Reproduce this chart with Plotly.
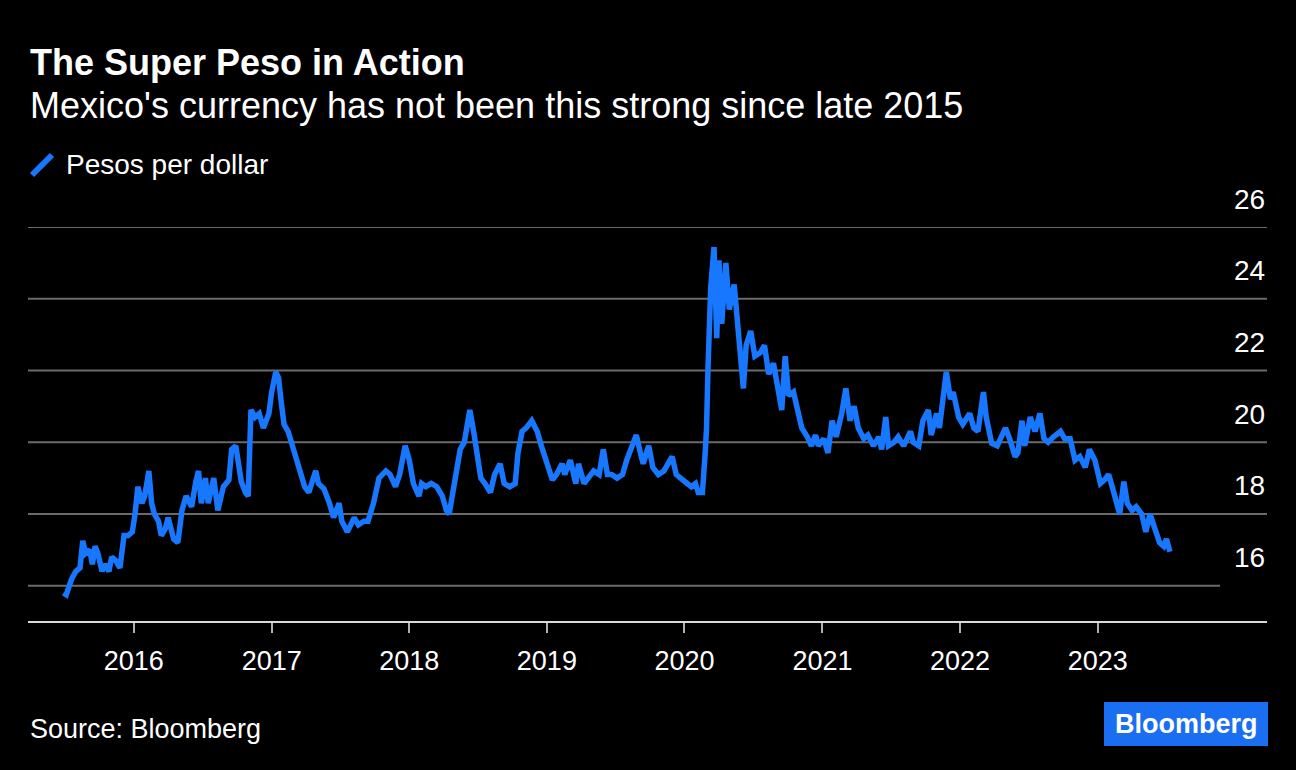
import plotly.graph_objects as go
import pandas as pd

# ---- data (decimal year, pesos per dollar) ----
t_years = [
    2015.49, 2015.51, 2015.55, 2015.58, 2015.61, 2015.63, 2015.65, 2015.68, 2015.70, 2015.72,
    2015.74, 2015.77, 2015.79, 2015.82, 2015.84, 2015.87, 2015.90, 2015.93, 2015.96, 2015.99,
    2016.01, 2016.03, 2016.06, 2016.08, 2016.11, 2016.13, 2016.15, 2016.18, 2016.20, 2016.23,
    2016.25, 2016.29, 2016.32, 2016.35, 2016.38, 2016.42, 2016.45, 2016.47, 2016.49, 2016.52,
    2016.54, 2016.58, 2016.61, 2016.65, 2016.69, 2016.71, 2016.74, 2016.76, 2016.78, 2016.81,
    2016.83, 2016.85, 2016.88, 2016.91, 2016.94, 2016.98, 2017.00, 2017.03, 2017.05, 2017.07,
    2017.09, 2017.12, 2017.15, 2017.17, 2017.21, 2017.24, 2017.27, 2017.32, 2017.34, 2017.38,
    2017.42, 2017.45, 2017.49, 2017.51, 2017.55, 2017.60, 2017.63, 2017.67, 2017.70, 2017.74,
    2017.78, 2017.83, 2017.86, 2017.90, 2017.93, 2017.97, 2018.00, 2018.03, 2018.07, 2018.09,
    2018.12, 2018.16, 2018.20, 2018.24, 2018.27, 2018.29, 2018.33, 2018.37, 2018.40, 2018.44,
    2018.47, 2018.49, 2018.52, 2018.55, 2018.59, 2018.62, 2018.66, 2018.69, 2018.73, 2018.77,
    2018.79, 2018.82, 2018.85, 2018.89, 2018.93, 2018.96, 2019.00, 2019.04, 2019.07, 2019.11,
    2019.13, 2019.17, 2019.21, 2019.23, 2019.27, 2019.30, 2019.34, 2019.38, 2019.41, 2019.44,
    2019.47, 2019.51, 2019.55, 2019.58, 2019.62, 2019.65, 2019.68, 2019.70, 2019.74, 2019.77,
    2019.81, 2019.85, 2019.88, 2019.91, 2019.94, 2019.98, 2020.02, 2020.05, 2020.08, 2020.10,
    2020.13, 2020.15, 2020.16, 2020.17, 2020.19, 2020.214, 2020.234, 2020.25, 2020.27, 2020.30,
    2020.325, 2020.36, 2020.386, 2020.427, 2020.447, 2020.48, 2020.51, 2020.55, 2020.58, 2020.61,
    2020.645, 2020.68, 2020.705, 2020.73, 2020.754, 2020.79, 2020.826, 2020.85, 2020.89, 2020.92,
    2020.95, 2020.97, 2021.01, 2021.04, 2021.07, 2021.10, 2021.14, 2021.17, 2021.20, 2021.23,
    2021.26, 2021.30, 2021.33, 2021.37, 2021.41, 2021.43, 2021.46, 2021.48, 2021.52, 2021.55,
    2021.59, 2021.64, 2021.66, 2021.70, 2021.73, 2021.77, 2021.79, 2021.83, 2021.85, 2021.90,
    2021.93, 2021.95, 2021.99, 2022.02, 2022.07, 2022.10, 2022.13, 2022.17, 2022.19, 2022.23,
    2022.27, 2022.29, 2022.33, 2022.36, 2022.40, 2022.42, 2022.45, 2022.47, 2022.51, 2022.545,
    2022.58, 2022.61, 2022.64, 2022.68, 2022.73, 2022.76, 2022.80, 2022.835, 2022.87, 2022.91,
    2022.94, 2022.98, 2023.02, 2023.05, 2023.08, 2023.11, 2023.14, 2023.16, 2023.19, 2023.215,
    2023.25, 2023.28, 2023.32, 2023.35, 2023.38, 2023.42, 2023.45, 2023.48, 2023.50, 2023.525,
]
pesos_per_dollar = [
    15.8, 15.75, 16.2, 16.4, 16.5, 17.25, 16.9, 17.0, 16.6, 17.1,
    16.9, 16.4, 16.6, 16.4, 16.8, 16.7, 16.5, 17.4, 17.4, 17.5,
    18.0, 18.76, 18.3, 18.5, 19.2, 18.3, 18.0, 17.8, 17.4, 17.6,
    17.9, 17.3, 17.2, 18.1, 18.5, 18.2, 18.9, 19.2, 18.3, 19.0,
    18.3, 19.0, 18.1, 18.76, 18.95, 19.8, 19.9, 19.3, 18.9, 18.6,
    18.5, 20.9, 20.7, 20.8, 20.4, 20.8, 21.4, 21.96, 21.8, 21.1,
    20.5, 20.3, 19.9, 19.7, 19.1, 18.76, 18.6, 19.2, 18.85, 18.7,
    18.3, 17.9, 18.3, 17.8, 17.5, 17.9, 17.7, 17.8, 17.8, 18.3,
    19.0, 19.2, 19.1, 18.76, 19.1, 19.9, 19.5, 18.85, 18.5, 18.85,
    18.76, 18.85, 18.76, 18.5, 18.1, 18.0, 18.9, 19.8, 20.0, 20.9,
    20.25, 19.7, 19.0, 18.85, 18.6, 19.1, 19.4, 18.85, 18.76, 18.85,
    19.7, 20.3, 20.4, 20.6, 20.3, 19.9, 19.4, 18.95, 19.1, 19.4,
    19.1, 19.5, 18.85, 19.4, 18.85, 19.0, 19.2, 19.1, 19.8, 19.1,
    19.1, 19.0, 19.1, 19.5, 19.9, 20.2, 19.7, 19.4, 19.9, 19.3,
    19.1, 19.2, 19.4, 19.6, 19.1, 18.95, 18.85, 18.76, 18.85, 18.6,
    18.6, 19.7, 20.4, 22.0, 24.3, 25.44, 22.9, 25.07, 23.3, 25.0,
    23.7, 24.4, 23.1, 21.5, 22.7, 23.1, 22.4, 22.5, 22.7, 21.9,
    22.2, 21.3, 20.9, 22.4, 21.3, 21.4, 20.8, 20.4, 20.15, 19.9,
    20.2, 19.9, 20.1, 19.7, 20.6, 20.15, 20.8, 21.5, 20.6, 21.0,
    20.4, 20.1, 20.2, 19.9, 20.15, 19.8, 20.7, 19.9, 20.0, 20.15,
    19.9, 20.3, 20.0, 19.9, 20.6, 20.9, 20.2, 20.8, 20.4, 21.96,
    21.2, 21.4, 20.7, 20.5, 20.8, 20.4, 20.3, 21.4, 20.7, 19.97,
    19.9, 20.1, 20.4, 20.1, 19.6, 19.7, 20.6, 19.9, 20.7, 20.3,
    20.8, 20.1, 20.0, 20.15, 20.3, 20.1, 20.1, 19.5, 19.6, 19.3,
    19.8, 19.5, 18.85, 18.95, 19.1, 18.7, 18.2, 18.0, 18.9, 18.3,
    18.1, 18.2, 18.0, 17.5, 18.0, 17.5, 17.2, 17.1, 17.3, 16.95,
]
year_ticks = [2016, 2017, 2018, 2019, 2020, 2021, 2022, 2023]
y_ticks = [16, 18, 20, 22, 24, 26]

title = "The Super Peso in Action"
subtitle = "Mexico's currency has not been this strong since late 2015"
series_name = "Pesos per dollar"
source = "Source: Bloomberg"


def dec_to_date(y):
    yr = int(y)
    start = pd.Timestamp(yr, 1, 1)
    end = pd.Timestamp(yr + 1, 1, 1)
    return start + (end - start) * (y - yr)


dates = [dec_to_date(v) for v in t_years]

W, H = 1296, 770
ML, MR, MT, MB = 28, 29, 227, 149
PW = W - ML - MR
PH = H - MT - MB


def px_x(X):
    return (X - ML) / PW


def px_y(Y):
    return (H - MB - Y) / PH


FONT = "Liberation Sans, Arial, Helvetica, sans-serif"
BLUE = "#1777ff"

fig = go.Figure()
fig.add_trace(go.Scatter(
    x=dates, y=pesos_per_dollar, mode="lines", name=series_name,
    line=dict(color=BLUE, width=5.5), showlegend=False,
))

shapes = []
for v in y_ticks:
    shapes.append(dict(type="line", xref="paper", yref="y", x0=0,
                       x1=(px_x(1220) if v == 16 else 1), y0=v, y1=v,
                       line=dict(color="#6a6a6a", width=2), layer="below"))
# legend icon
shapes.append(dict(type="line", xref="paper", yref="paper",
                   x0=px_x(32), y0=px_y(175), x1=px_x(52), y1=px_y(155),
                   line=dict(color=BLUE, width=6)))
# Bloomberg logo box
shapes.append(dict(type="rect", xref="paper", yref="paper",
                   x0=px_x(1104), y0=px_y(746), x1=px_x(1268), y1=px_y(702),
                   fillcolor="#1a6ef2", line=dict(width=0)))

annotations = []
for v in y_ticks:
    annotations.append(dict(xref="paper", yref="y", x=1, y=v, yshift=28,
                            xanchor="right", yanchor="middle", showarrow=False,
                            text=str(v), font=dict(family=FONT, size=28, color="white")))
annotations += [
    dict(xref="paper", yref="paper", x=px_x(28), y=px_y(62), xanchor="left", yanchor="middle",
         showarrow=False, text="<b>" + title + "</b>", font=dict(family=FONT, size=36, color="white")),
    dict(xref="paper", yref="paper", x=px_x(28), y=px_y(105), xanchor="left", yanchor="middle",
         showarrow=False, text=subtitle, font=dict(family=FONT, size=36, color="white")),
    dict(xref="paper", yref="paper", x=px_x(64), y=px_y(164), xanchor="left", yanchor="middle",
         showarrow=False, text=series_name, font=dict(family=FONT, size=28, color="white")),
    dict(xref="paper", yref="paper", x=px_x(28), y=px_y(729), xanchor="left", yanchor="middle",
         showarrow=False, text=source, font=dict(family=FONT, size=27, color="white")),
    dict(xref="paper", yref="paper", x=px_x(1186), y=px_y(724), xanchor="center", yanchor="middle",
         showarrow=False, text="<b>Bloomberg</b>", font=dict(family=FONT, size=27, color="white")),
]

fig.update_layout(
    width=W, height=H,
    margin=dict(l=ML, r=MR, t=MT, b=MB, pad=0),
    paper_bgcolor="black", plot_bgcolor="black",
    shapes=shapes, annotations=annotations,
    showlegend=False,
    xaxis=dict(
        type="date",
        range=[dec_to_date(2015.232), dec_to_date(2024.23)],
        tickvals=[pd.Timestamp(y, 1, 1) for y in year_ticks],
        ticktext=[str(y) for y in year_ticks],
        showgrid=False, zeroline=False,
        showline=True, linecolor="#d9d9d9", linewidth=2,
        ticks="outside", ticklen=10, tickwidth=2, tickcolor="#b0b0b0",
        tickfont=dict(family=FONT, size=27, color="white"),
        ticklabelstandoff=5,
        fixedrange=True,
    ),
    yaxis=dict(
        range=[15.017, 26], showticklabels=False, showgrid=False,
        zeroline=False, showline=False, fixedrange=True,
    ),
)

fig.write_html(
    "out.html",
    config={"displayModeBar": False},
    post_script="document.body.style.margin='0';document.body.style.background='black';",
)
